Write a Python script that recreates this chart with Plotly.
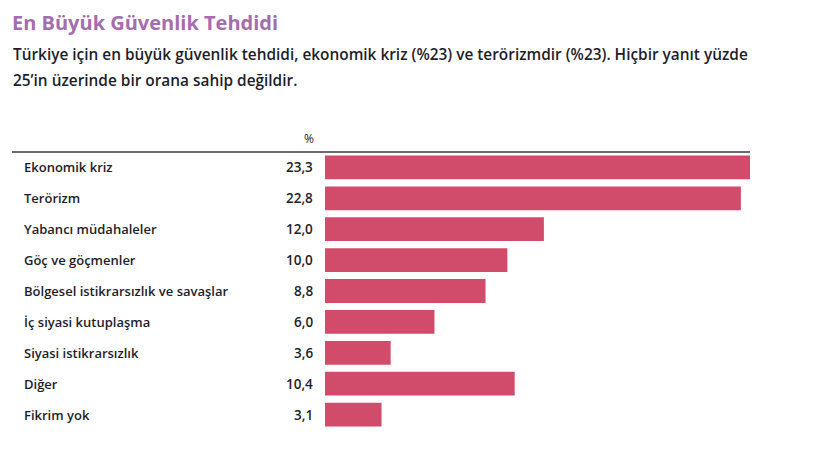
import plotly.graph_objects as go

# data
categories = [
    "Ekonomik kriz",
    "Terörizm",
    "Yabancı müdahaleler",
    "Göç ve göçmenler",
    "Bölgesel istikrarsızlık ve savaşlar",
    "İç siyasi kutuplaşma",
    "Siyasi istikrarsızlık",
    "Diğer",
    "Fikrim yok",
]
values = [23.3, 22.8, 12.0, 10.0, 8.8, 6.0, 3.6, 10.4, 3.1]
value_labels = ["23,3", "22,8", "12,0", "10,0", "8,8", "6,0", "3,6", "10,4", "3,1"]

title = "En Büyük Güvenlik Tehdidi"
subtitle_lines = [
    "Türkiye için en büyük güvenlik tehdidi, ekonomik kriz (%23) ve terörizmdir (%23). Hiçbir yanıt yüzde",
    "25’in üzerinde bir orana sahip değildir.",
]

# page body has an 8px margin, so the figure is 16px smaller than the window
OFF = 8
W, H = 832 - 2 * OFF, 461 - 2 * OFF
TOP, BOT = 152 - OFF, 461 - 430 - OFF
PLOT_H = H - TOP - BOT

BAR = "#d14b6a"
TXT = "#1e1e2a"
FONT = "Open Sans"


def px_x(x):
    # window pixel column -> paper x
    return (x - OFF) / W


def px_y(y):
    # window pixel row -> paper y
    return (430 - y) / PLOT_H


fig = go.Figure(go.Bar(
    x=values,
    y=categories,
    orientation="h",
    marker=dict(color=BAR, line=dict(width=0)),
    hoverinfo="skip",
))

# category names and values, placed on the category axis
for cat, lab in zip(categories, value_labels):
    fig.add_annotation(x=px_x(22), y=cat, xref="paper", yref="y", text=cat,
                       showarrow=False, xanchor="left",
                       font=dict(family=FONT, size=13, color=TXT, weight=600))
    fig.add_annotation(x=px_x(315), y=cat, xref="paper", yref="y", text=lab,
                       showarrow=False, xanchor="right",
                       font=dict(family=FONT, size=13.5, color=TXT, weight=600))

fig.add_annotation(x=px_x(316), y=px_y(138), xref="paper", yref="paper", text="%",
                   showarrow=False, xanchor="right", yanchor="middle",
                   font=dict(family=FONT, size=12, color=TXT))

# title box starts at the very top of the figure
fig.add_annotation(x=px_x(11), y=px_y(OFF), xref="paper", yref="paper", text=title,
                   showarrow=False, xanchor="left", yanchor="top", borderpad=0,
                   font=dict(family=FONT, size=20, color="#a56cae", weight=700))

for line, yy in zip(subtitle_lines, [55, 80]):
    fig.add_annotation(x=px_x(11), y=px_y(yy), xref="paper", yref="paper", text=line,
                       showarrow=False, xanchor="left", yanchor="middle",
                       font=dict(family=FONT, size=15.4, color=TXT, weight=600))

# header rule
fig.add_shape(type="line", xref="paper", yref="paper",
              x0=px_x(12), x1=px_x(750), y0=1, y1=1,
              line=dict(color="#3a3a3a", width=1.5))

fig.update_layout(
    width=W, height=H,
    margin=dict(l=0, r=0, t=TOP, b=BOT),
    paper_bgcolor="white", plot_bgcolor="white",
    showlegend=False,
    bargap=0.23,
    font=dict(family=FONT, color=TXT),
)
fig.update_xaxes(domain=[px_x(325), px_x(750)], range=[0, 23.3],
                 visible=False, fixedrange=True)
fig.update_yaxes(categoryorder="array", categoryarray=categories,
                 autorange="reversed", showticklabels=False,
                 showgrid=False, zeroline=False, fixedrange=True)

fig.write_html("out.html", config={"displayModeBar": False})
